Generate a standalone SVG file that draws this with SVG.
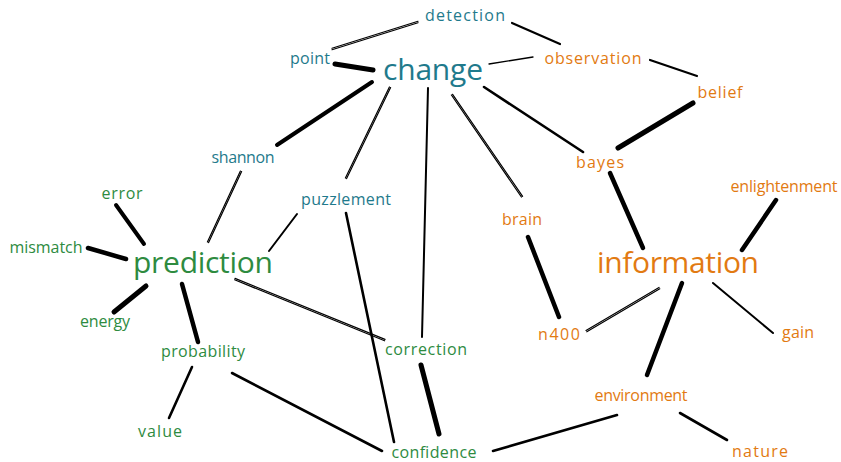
<svg xmlns="http://www.w3.org/2000/svg" width="841" height="462" viewBox="0 0 841 462">
<style>
text{font-family:"Open Sans","Liberation Sans",sans-serif;text-anchor:middle}
.s{font-size:16px}
.b{font-size:30px}
.teal{fill:#1f7a8c}
.green{fill:#2e8b3f}
.orange{fill:#e27a12}
.e line{stroke:#000;stroke-linecap:round;fill:none}
.d{stroke-width:1.2}
</style>
<rect width="841" height="462" fill="#fff"/>
<g id="connectors" class="e">
<line class="d" x1="418" y1="21.3" x2="332" y2="48.3"/><line class="d" x1="418" y1="22.7" x2="332" y2="49.7"/>
<line x1="512" y1="23" x2="560" y2="44" stroke-width="2.2"/>
<line x1="335" y1="64" x2="373" y2="70" stroke-width="5"/>
<line x1="489" y1="64" x2="533" y2="57" stroke-width="1.3"/>
<line x1="650" y1="60" x2="697" y2="76" stroke-width="2.2"/>
<line x1="693" y1="103" x2="618" y2="148" stroke-width="5"/>
<line x1="484" y1="87" x2="583" y2="152" stroke-width="2.6"/>
<line class="d" x1="451.4" y1="95" x2="521.4" y2="197"/><line class="d" x1="452.6" y1="94.3" x2="522.6" y2="196.3"/>
<line x1="610" y1="173" x2="643" y2="248" stroke-width="4.5"/>
<line x1="776" y1="200" x2="742" y2="250" stroke-width="4.5"/>
<line x1="528" y1="237" x2="559" y2="317" stroke-width="4.5"/>
<line class="d" x1="659" y1="287.4" x2="586" y2="330.4"/><line class="d" x1="659.8" y1="288.8" x2="586.8" y2="331.8"/>
<line x1="713" y1="283" x2="773" y2="333" stroke-width="2"/>
<line x1="682" y1="283" x2="647" y2="375" stroke-width="4.5"/>
<line x1="680" y1="413" x2="727" y2="440" stroke-width="2.6"/>
<line x1="617" y1="415" x2="493" y2="451" stroke-width="2.6"/>
<line x1="372" y1="82" x2="277" y2="145" stroke-width="4"/>
<line class="d" x1="389.4" y1="87" x2="345.4" y2="178"/><line class="d" x1="390.6" y1="87.6" x2="346.6" y2="178.6"/>
<line x1="428" y1="88" x2="422" y2="337" stroke-width="2"/>
<line class="d" x1="240.4" y1="171" x2="207.4" y2="242"/><line class="d" x1="241.6" y1="171.6" x2="208.6" y2="242.6"/>
<line x1="297" y1="214" x2="269" y2="251" stroke-width="2"/>
<line x1="346" y1="213" x2="394" y2="442" stroke-width="2.6"/>
<line class="d" x1="235" y1="278.4" x2="385" y2="339.4" stroke="#444"/><line class="d" x1="234.6" y1="279.8" x2="384.6" y2="340.8" stroke="#444"/>
<line x1="116" y1="205" x2="144" y2="244" stroke-width="4"/>
<line x1="88" y1="248" x2="126" y2="259" stroke-width="4.5"/>
<line x1="146" y1="286" x2="114" y2="312" stroke-width="5"/>
<line x1="182" y1="284" x2="198" y2="342" stroke-width="4.5"/>
<line x1="192" y1="367" x2="169" y2="418" stroke-width="2.6"/>
<line x1="232" y1="373" x2="382" y2="451" stroke-width="2.6"/>
<line x1="421" y1="365" x2="439" y2="434" stroke-width="5"/>
</g>
<g id="n-detection"><text class="s teal" x="465" y="21" textLength="80">detection</text></g>
<g id="n-point"><text class="s teal" x="310" y="64" textLength="40">point</text></g>
<g id="n-change"><text class="b teal" x="433" y="80" textLength="100">change</text></g>
<g id="n-observation"><text class="s orange" x="593" y="64" textLength="97">observation</text></g>
<g id="n-belief"><text class="s orange" x="720" y="98" textLength="45">belief</text></g>
<g id="n-shannon"><text class="s teal" x="243" y="163" textLength="63">shannon</text></g>
<g id="n-bayes"><text class="s orange" x="600" y="168" textLength="48">bayes</text></g>
<g id="n-puzzlement"><text class="s teal" x="346" y="205" textLength="90">puzzlement</text></g>
<g id="n-brain"><text class="s orange" x="522" y="225" textLength="40">brain</text></g>
<g id="n-enlightenment"><text class="s orange" x="784" y="192" textLength="107">enlightenment</text></g>
<g id="n-error"><text class="s green" x="122" y="199" textLength="41">error</text></g>
<g id="n-mismatch"><text class="s green" x="46" y="253" textLength="73">mismatch</text></g>
<g id="n-prediction"><text class="b green" x="203" y="273" textLength="140">prediction</text></g>
<g id="n-information"><text class="b orange" x="678" y="273" textLength="162">information</text></g>
<g id="n-energy"><text class="s green" x="105" y="327" textLength="50">energy</text></g>
<g id="n-n400"><text class="s orange" x="559" y="340" textLength="42">n400</text></g>
<g id="n-gain"><text class="s orange" x="798" y="338" textLength="32">gain</text></g>
<g id="n-correction"><text class="s green" x="426" y="355" textLength="82">correction</text></g>
<g id="n-probability"><text class="s green" x="203" y="357" textLength="84">probability</text></g>
<g id="n-environment"><text class="s orange" x="641" y="401" textLength="93">environment</text></g>
<g id="n-value"><text class="s green" x="160" y="437" textLength="44">value</text></g>
<g id="n-confidence"><text class="s green" x="434" y="458" textLength="85">confidence</text></g>
<g id="n-nature"><text class="s orange" x="760" y="457" textLength="56">nature</text></g>
</svg>
